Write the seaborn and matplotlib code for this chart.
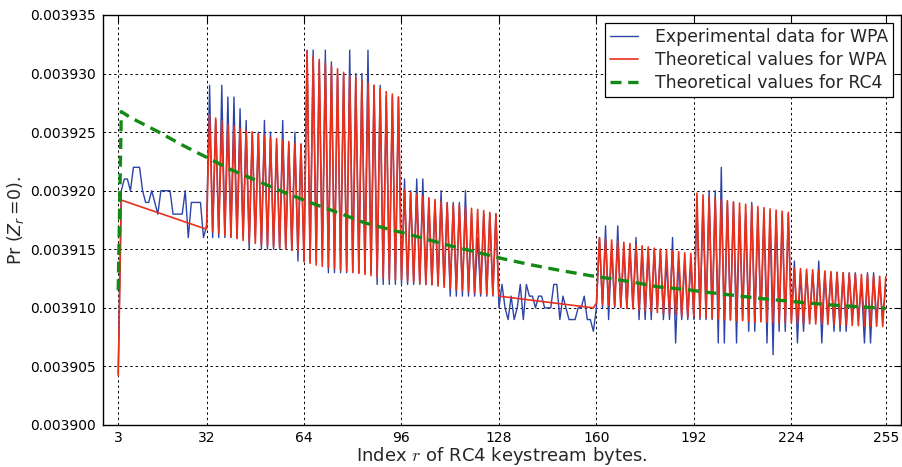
import numpy as np
import pandas as pd
import matplotlib
matplotlib.use("Agg")
import matplotlib.pyplot as plt
import seaborn as sns
from matplotlib.ticker import FormatStrFormatter, MultipleLocator

# Values in micro-units above 0.0039: p = BASE + u * UNIT
BASE = 0.0039
UNIT = 1e-6

# ---------------- Experimental data for WPA (r = 3 .. 255) ----------------
exp_r3_31 = [4.4, 20, 21, 21, 20, 22, 22, 22, 20, 19, 19, 20, 19, 18, 20, 20,
             20, 20, 18, 18, 18, 18, 20, 16, 19, 19, 19, 19, 16]
exp_r32_63 = [17, 29, 16, 26, 16, 29, 16, 28, 16, 28, 16, 27, 16, 26, 15, 25,
              16, 25, 15, 26, 15, 25, 15, 24, 15, 26, 15, 24, 15, 25, 14, 24]
exp_r64_95 = [14, 32, 14, 32, 14, 31, 14, 32, 13, 31, 13, 30, 13, 30, 13, 32,
              13, 30, 13, 30, 13, 32, 13, 29, 12, 29, 12, 28, 12, 28, 12, 28]
exp_r96_127 = [12, 21, 12, 20, 12, 21, 12, 21, 12, 19, 12, 19, 12, 20, 12, 19,
               11, 19, 11, 19, 11, 20, 11, 18, 11, 16, 11, 18, 11, 18, 11, 18]
exp_r128_159 = [10, 12, 10, 9, 11, 9, 10, 12, 9, 12, 11, 11, 10, 11, 11, 10,
                10, 10, 12, 12, 9, 11, 10, 9, 9, 9, 10, 10, 11, 9, 9, 8]
exp_r160_191 = [10, 16, 10, 17, 9, 15, 10, 17, 10, 15, 10, 15, 10, 16, 9, 15,
                9, 15, 9, 15, 10, 15, 9, 14, 9, 16, 7, 14, 9, 14, 9, 14]
exp_r192_223 = [9, 19, 9, 19, 9, 20, 9, 20, 7, 22, 7, 19, 9, 19, 7, 18,
                9, 18, 8, 19, 8, 18, 9, 18, 7, 18, 6, 18, 8, 18, 8, 18]
exp_r224_255 = [9, 14, 7, 13, 8, 13, 9, 13, 9, 14, 7, 13, 9, 13, 8, 13,
                8, 13, 8, 13, 9, 13, 9, 12, 7, 13, 7, 13, 9, 12, 9, 12]

# ---------------- Theoretical values for WPA ----------------
wpa_r_start = [3, 4, 31]
wpa_start = [4.2, 19.2, 16.8]
wpa_r32_63 = [16.75, 26.5, 16.5, 26.2, 16.35, 25.95, 16.2, 25.7, 16.05, 25.5, 15.9, 25.3,
              15.75, 25.15, 15.6, 25.0, 15.5, 24.85, 15.4, 24.7, 15.3, 24.55, 15.2, 24.45,
              15.1, 24.3, 15.0, 24.2, 14.9, 24.05, 14.8, 23.95]
wpa_r64_95 = [13.95, 31.9, 13.8, 31.5, 13.65, 31.2, 13.55, 30.9, 13.45, 30.6, 13.35, 30.4,
              13.25, 30.1, 13.15, 29.8, 13.05, 29.65, 12.95, 29.45, 12.85, 29.2, 12.75, 29.0,
              12.65, 28.7, 12.55, 28.45, 12.45, 28.25, 12.4, 28.0]
wpa_r96_127 = [12.4, 20.05, 12.3, 19.85, 12.2, 19.7, 12.1, 19.55, 12.0, 19.4, 11.95, 19.25,
               11.85, 19.1, 11.75, 18.95, 11.65, 18.85, 11.55, 18.75, 11.5, 18.6, 11.4, 18.5,
               11.3, 18.4, 11.25, 18.3, 11.15, 18.15, 11.1, 18.05]
wpa_r_mid = [128, 159]
wpa_mid = [11.0, 10.0]
wpa_r160_191 = [10.4, 16.0, 10.3, 15.9, 10.2, 15.8, 10.15, 15.7, 10.05, 15.6, 9.95, 15.5,
                9.9, 15.4, 9.8, 15.3, 9.75, 15.2, 9.65, 15.1, 9.6, 15.0, 9.5, 14.95,
                9.45, 14.85, 9.4, 14.8, 9.3, 14.7, 9.25, 14.65]
wpa_r192_223 = [9.25, 19.8, 9.2, 19.65, 9.15, 19.5, 9.1, 19.4, 9.05, 19.25, 9.0, 19.15,
                8.95, 19.05, 8.9, 18.95, 8.9, 18.85, 8.85, 18.75, 8.8, 18.65, 8.8, 18.55,
                8.75, 18.45, 8.75, 18.35, 8.7, 18.25, 8.7, 18.15]
wpa_r224_255 = [8.7, 13.4, 8.68, 13.35, 8.66, 13.3, 8.64, 13.25, 8.62, 13.2, 8.6, 13.15,
                8.58, 13.1, 8.56, 13.05, 8.54, 13.0, 8.52, 12.95, 8.5, 12.9, 8.48, 12.85,
                8.46, 12.8, 8.44, 12.75, 8.42, 12.7, 8.4, 12.65]

# ---------------- Theoretical values for RC4 ----------------
rc4_r = [3, 4, 7, 16, 24, 32, 40, 49, 58, 67, 76, 84, 98, 103, 112, 120, 130, 139,
         148, 158, 162, 172, 180, 190, 194, 204, 214, 228, 237, 246, 255]
rc4_u = [11.5, 26.75, 26.25, 25.05, 23.9, 22.85, 21.8, 20.8, 19.8, 18.9, 18.05, 17.25,
         16.3, 15.95, 15.3, 14.8, 14.15, 13.65, 13.2, 12.75, 12.6, 12.2, 11.8, 11.55,
         11.4, 11.1, 10.8, 10.45, 10.25, 10.1, 9.95]

x_ticks = [3, 32, 64, 96, 128, 160, 192, 224, 255]
labels = ["Experimental data for WPA", "Theoretical values for WPA",
          "Theoretical values for RC4"]

# ---------------- assemble ----------------
exp_r = list(range(3, 256))
exp_u = (exp_r3_31 + exp_r32_63 + exp_r64_95 + exp_r96_127 + exp_r128_159
         + exp_r160_191 + exp_r192_223 + exp_r224_255)
wpa_r = wpa_r_start + list(range(32, 128)) + wpa_r_mid + list(range(160, 256))
wpa_u = (wpa_start + wpa_r32_63 + wpa_r64_95 + wpa_r96_127 + wpa_mid
         + wpa_r160_191 + wpa_r192_223 + wpa_r224_255)

df_exp = pd.DataFrame({"r": exp_r, "p": BASE + UNIT * np.array(exp_u)})
df_wpa = pd.DataFrame({"r": wpa_r, "p": BASE + UNIT * np.array(wpa_u)})
df_rc4 = pd.DataFrame({"r": rc4_r, "p": BASE + UNIT * np.array(rc4_u)})

sns.set_style("white")
plt.rcParams["font.family"] = ["DejaVu Sans"]
plt.rcParams["mathtext.fontset"] = "dejavusans"

fig = plt.figure(figsize=(9.03, 4.67), dpi=100)
ax = fig.add_axes([103 / 903, 42 / 467, 798 / 903, 410 / 467])

sns.lineplot(data=df_exp, x="r", y="p", ax=ax, color="#2c44a8", lw=1.0,
             estimator=None, sort=False, label=labels[0])
sns.lineplot(data=df_wpa, x="r", y="p", ax=ax, color="#e8301e", lw=1.2,
             estimator=None, sort=False, label=labels[1])
sns.lineplot(data=df_rc4, x="r", y="p", ax=ax, color="#138a13", lw=2.4,
             linestyle=(0, (3.3, 2.0)), estimator=None, sort=False, label=labels[2])

ax.set_xlim(-2, 260)
ax.set_ylim(0.0039, 0.003935)
ax.set_xticks(x_ticks)
ax.yaxis.set_major_locator(MultipleLocator(0.000005))
ax.yaxis.set_major_formatter(FormatStrFormatter("%.6f"))
ax.tick_params(axis="y", which="major", pad=5)
ax.tick_params(axis="x", which="major", pad=4)
ax.tick_params(axis="both", which="major", direction="in", length=5, width=0.8,
               top=True, right=True, labelsize=10, colors="black")
ax.grid(True, color="black", linestyle=(0, (2.5, 3)), linewidth=0.7)
ax.set_axisbelow(True)
for s in ax.spines.values():
    s.set_visible(True)
    s.set_color("black")
    s.set_linewidth(1.0)

ax.set_xlabel(r"Index $r$ of RC4 keystream bytes.", fontsize=13, labelpad=0,
              math_fontfamily="cm")
ax.set_ylabel(r"Pr $(Z_r =\!0)$.", fontsize=12.5, labelpad=3)

leg = ax.legend(loc="upper right", fontsize=12.4, frameon=True, fancybox=False,
                framealpha=1, edgecolor="black", borderaxespad=0.45,
                handlelength=1.6, handletextpad=1.0, labelspacing=0.3,
                borderpad=0.3)
leg.get_frame().set_linewidth(0.9)

fig.savefig("out.png", dpi=100)
